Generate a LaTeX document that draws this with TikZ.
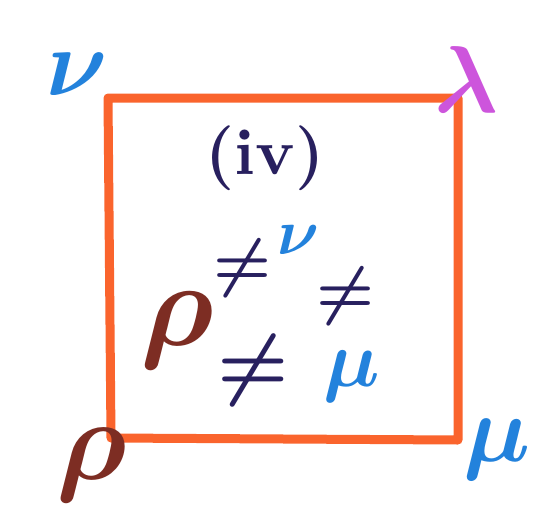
\documentclass[tikz,border=0pt]{standalone}
\usepackage{amsmath}
\usepackage{xcolor}
\usepackage{tikz}
\usetikzlibrary{positioning}
\definecolor{sqorange}{RGB}{250,100,45}
\definecolor{labblue}{RGB}{35,130,220}
\definecolor{labpink}{RGB}{205,85,220}
\definecolor{labbrown}{RGB}{125,45,35}
\definecolor{labdark}{RGB}{40,32,95}

\begin{document}
\begin{tikzpicture}[
  x=1pt, y=-1pt,
  edge/.style={draw=sqorange, line width=9pt, line cap=round, line join=round},
  lbl/.style={inner sep=0pt, scale=#1/10},
  lbl/.default=100
]
\useasboundingbox[fill=white] (0,0) rectangle (560,523);

% --- Square corners ---
\coordinate (nw) at (108,98);
\coordinate (ne) at (458,98);
\coordinate (se) at (458,440);
\coordinate (sw) at (111,438);

\draw[edge] (nw) -- (ne) -- (se) -- (sw) -- cycle;

% --- Corner labels ---
\node[lbl=95, text=labblue]   (cnu)  at (77,74)   {$\boldsymbol{\nu}$};
\node[lbl=95, text=labpink]   (clam) at (466,80)  {$\boldsymbol{\lambda}$};
\node[lbl=115, text=labbrown] (crho) at (92,465)  {$\boldsymbol{\rho}$};
\node[lbl=95, text=labblue]   (cmu)  at (497,450) {$\boldsymbol{\mu}$};

% --- Inside ---
\node[lbl=65, text=labdark]   (title) at (265,158) {\bfseries (iv)};
\node[lbl=65, text=labdark]   (ne1)   at (243,268) {$\boldsymbol{\neq}$};
\node[lbl=65, text=labblue]   (inu)   at (298,240) {$\boldsymbol{\nu}$};
\node[lbl=65, text=labdark]   (ne2)   at (346,296) {$\boldsymbol{\neq}$};
\node[lbl=120, text=labbrown] (irho)  at (177,330) {$\boldsymbol{\rho}$};
\node[lbl=80, text=labdark]   (ne3)   at (253,370) {$\boldsymbol{\neq}$};
\node[lbl=80, text=labblue]   (imu)   at (352,376) {$\boldsymbol{\mu}$};

\end{tikzpicture}
\end{document}
